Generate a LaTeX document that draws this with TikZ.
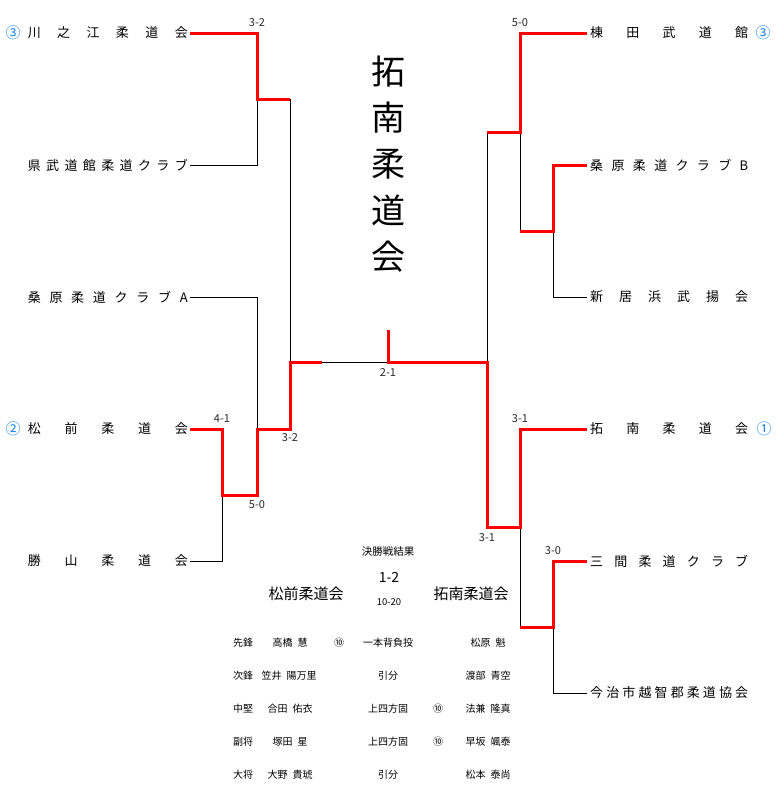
\documentclass[tikz,border=0pt]{standalone}
\usepackage{fontspec}
\setmainfont{Noto Sans CJK JP}
\definecolor{seedblue}{RGB}{20,130,235}
\definecolor{winred}{RGB}{255,0,0}
\newcommand\gp{\hspace{0.5em}}
\newcommand\fsz[1]{\fontsize{#1}{#1}\selectfont}
\newcommand\lsp[1]{\makebox[160pt][s]{#1}}
\newcommand\rsp[1]{\makebox[158pt][s]{#1}}
\tikzset{
  win/.style={draw=winred, line width=3pt, line join=miter},
  lose/.style={draw=black, line width=0.9pt},
  lname/.style={anchor=east, inner xsep=2pt, inner ysep=0pt, font=\fsz{13}},
  rname/.style={anchor=west, inner xsep=3pt, inner ysep=0pt, font=\fsz{13}},
  score/.style={inner sep=0pt, font=\fsz{11}, text=black!85},
  seed/.style={inner sep=0pt, font=\fsz{15}, text=seedblue},
  tbl/.style={inner sep=0pt, font=\fsz{10}},
}
\begin{document}
\begin{tikzpicture}[x=1pt,y=-1pt]
\useasboundingbox (0,0) rectangle (777,793);

% ---- left names
\node[lname] (L1) at (190,33)  {\lsp{川\hfill 之\hfill 江\hfill 柔\hfill 道\hfill 会}};
\node[lname] (L2) at (190,165) {\lsp{県\hfill 武\hfill 道\hfill 館\hfill 柔\hfill 道\hfill ク\hfill ラ\hfill ブ}};
\node[lname] (L3) at (190,297) {\lsp{桑\hfill 原\hfill 柔\hfill 道\hfill ク\hfill ラ\hfill ブ\hfill A}};
\node[lname] (L4) at (190,429) {\lsp{松\hfill 前\hfill 柔\hfill 道\hfill 会}};
\node[lname] (L5) at (190,561) {\lsp{勝\hfill 山\hfill 柔\hfill 道\hfill 会}};
% ---- right names
\node[rname] (R1) at (587,33)  {\rsp{棟\hfill 田\hfill 武\hfill 道\hfill 館}};
\node[rname] (R2) at (587,165) {\rsp{桑\hfill 原\hfill 柔\hfill 道\hfill ク\hfill ラ\hfill ブ\hfill B}};
\node[rname] (R3) at (587,297) {\rsp{新\hfill 居\hfill 浜\hfill 武\hfill 揚\hfill 会}};
\node[rname] (R4) at (587,429) {\rsp{拓\hfill 南\hfill 柔\hfill 道\hfill 会}};
\node[rname] (R5) at (587,561) {\rsp{三\hfill 間\hfill 柔\hfill 道\hfill ク\hfill ラ\hfill ブ}};
\node[rname] (R6) at (587,693) {\rsp{今\hfill 治\hfill 市\hfill 越\hfill 智\hfill 郡\hfill 柔\hfill 道\hfill 協\hfill 会}};

% ---- seeds
\node[seed] (sL1) at (13,33)  {③};
\node[seed] (sL4) at (13,429) {②};
\node[seed] (sR1) at (763,33) {③};
\node[seed] (sR4) at (764,429) {①};

% ---- bracket junctions
\coordinate (k1)  at (257,99);
\coordinate (k1r) at (290,99);
\coordinate (k2)  at (222,495);
\coordinate (k2r) at (257,495);
\coordinate (k3)  at (257,429);
\coordinate (k3r) at (290,429);
\coordinate (c1)  at (290,362);
\coordinate (c1r) at (322,362);
\coordinate (f)   at (388,362);
\coordinate (ftop) at (388,330);
\coordinate (c2)  at (487,362);
\coordinate (m1)  at (520,132);
\coordinate (m1l) at (487,132);
\coordinate (m2)  at (520,231);
\coordinate (m2r) at (553,231);
\coordinate (m3)  at (520,527);
\coordinate (m3l) at (487,527);
\coordinate (m4)  at (520,627);
\coordinate (m4r) at (553,627);

% ---- losing lines
\draw[lose] (L2.east) -| (k1);
\draw[lose] (k1r) -- (c1);
\draw[lose] (L3.east) -| (k3);
\draw[lose] (L5.east) -| (k2);
\draw[lose] (c1r) -- (f);
\draw[lose] (m1l) -- (c2);
\draw[lose] (m1) -- (m2);
\draw[lose] (R3.west) -| (m2r);
\draw[lose] (m3) -- (m4);
\draw[lose] (R6.west) -| (m4r);

% ---- winning lines
\draw[win] (L1.east) -| (k1) -- (k1r);
\draw[win] (L4.east) -| (k2) -- (k2r) -- (k3) -- (k3r) -- (c1) -- (c1r);
\draw[win] (R1.west) -| (m1) -- (m1l);
\draw[win] (R2.west) -| (m2r) -- (m2);
\draw[win] (ftop) -- (f) -- (c2) -- (m3l) -- (m3) |- (R4.west);
\draw[win] (R5.west) -| (m4r) -- (m4);

% ---- scores
\node[score] (s1) at (257,23)  {3-2};
\node[score] (s2) at (222,419) {4-1};
\node[score] (s3) at (257,505) {5-0};
\node[score] (s4) at (290,438) {3-2};
\node[score] (s5) at (388,373) {2-1};
\node[score] (s6) at (520,23)  {5-0};
\node[score] (s7) at (520,419) {3-1};
\node[score] (s8) at (487,538) {3-1};
\node[score] (s9) at (553,551) {3-0};

% ---- title
\node[inner sep=0pt, align=center, font=\fontsize{34}{46.3}\selectfont] (title) at (388,164)
  {拓\\南\\柔\\道\\会};

% ---- final result
\node[inner sep=0pt, font=\fsz{10.5}] (fin)   at (388,552) {決勝戦結果};
\node[inner sep=0pt, font=\fsz{14}]   (fsc)   at (389,577) {1-2};
\node[inner sep=0pt, font=\fsz{15}]   (teamA) at (306,594) {松前柔道会};
\node[inner sep=0pt, font=\fsz{15}]   (teamB) at (471,594) {拓南柔道会};
\node[inner sep=0pt, font=\fsz{9.5}]  (pts)   at (389,602) {10-20};

% ---- table
\node[tbl] (p1) at (243,643) {先鋒};
\node[tbl] (p2) at (243,676) {次鋒};
\node[tbl] (p3) at (243,709) {中堅};
\node[tbl] (p4) at (243,742) {副将};
\node[tbl] (p5) at (243,775) {大将};

\node[tbl] (a1) at (290,643) {高橋\gp 慧};
\node[tbl] (a2) at (289,676) {笠井\gp 陽万里};
\node[tbl] (a3) at (290,709) {合田\gp 佑衣};
\node[tbl] (a4) at (290,742) {塚田\gp 星};
\node[tbl] (a5) at (290,775) {大野\gp 貴琥};

\node[tbl] (w1) at (339,643) {⑩};
\node[tbl] (w3) at (438,709) {⑩};
\node[tbl] (w4) at (438,742) {⑩};

\node[tbl] (t1) at (388,643) {一本背負投};
\node[tbl] (t2) at (388,676) {引分};
\node[tbl] (t3) at (388,709) {上四方固};
\node[tbl] (t4) at (388,742) {上四方固};
\node[tbl] (t5) at (388,775) {引分};

\node[tbl] (b1) at (488,643) {松原\gp 魁};
\node[tbl] (b2) at (488,676) {渡部\gp 青空};
\node[tbl] (b3) at (488,709) {法兼\gp 隆真};
\node[tbl] (b4) at (488,742) {早坂\gp 颯泰};
\node[tbl] (b5) at (488,775) {松本\gp 泰尚};
\end{tikzpicture}
\end{document}
